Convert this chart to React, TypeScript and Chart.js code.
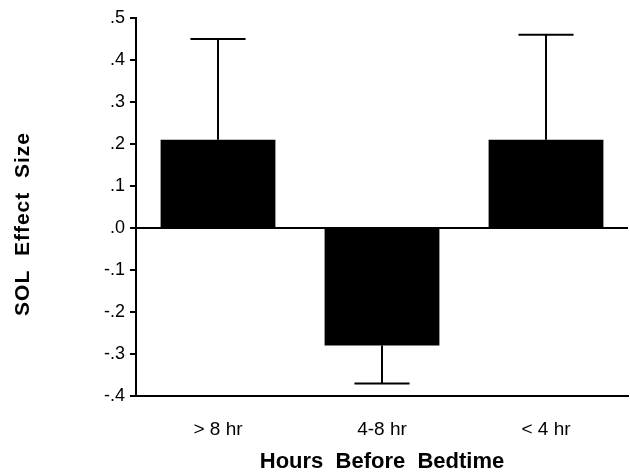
import React, { useEffect, useRef } from "react";
import { Chart, registerables } from "chart.js";

Chart.register(...registerables);

const categories = ["> 8 hr", "4-8 hr", "< 4 hr"];
const effectSizes = [0.21, -0.28, 0.21];
const errorEnds = [0.45, -0.37, 0.46];
const yTickValues = [0.5, 0.4, 0.3, 0.2, 0.1, 0.0, -0.1, -0.2, -0.3, -0.4];
const yTitle = "SOL  Effect  Size";
const xTitle = "Hours  Before  Bedtime";

const FONT = "Liberation Sans, Arial, Helvetica, sans-serif";

const fmt = (v: number) => {
  const r = Math.round(v * 10) / 10;
  return r.toFixed(1).replace("0.", ".");
};

const errorBarPlugin = {
  id: "errorBars",
  afterDatasetsDraw(chart: any) {
    const { ctx, scales } = chart;
    const meta = chart.getDatasetMeta(0);
    ctx.save();
    ctx.strokeStyle = "#000";
    ctx.lineWidth = 2;
    meta.data.forEach((bar: any, i: number) => {
      const x = bar.x;
      const y0 = scales.y.getPixelForValue(effectSizes[i]);
      const y1 = scales.y.getPixelForValue(errorEnds[i]);
      const capHalf = bar.width * 0.24;
      ctx.beginPath();
      ctx.moveTo(x, y0);
      ctx.lineTo(x, y1);
      ctx.moveTo(x - capHalf, y1);
      ctx.lineTo(x + capHalf, y1);
      ctx.stroke();
    });
    ctx.restore();
  },
};

const yTitlePlugin = {
  id: "yTitleOffset",
  afterDraw(chart: any) {
    const { ctx, chartArea } = chart;
    ctx.save();
    ctx.fillStyle = "#000";
    ctx.font = `bold 21px ${FONT}`;
    try {
      (ctx as any).letterSpacing = "1px";
    } catch (e) {}
    ctx.textAlign = "center";
    ctx.textBaseline = "middle";
    ctx.translate(23, (chartArea.top + chartArea.bottom) / 2 + 17);
    ctx.rotate(-Math.PI / 2);
    ctx.fillText(yTitle, 0, 0);
    ctx.restore();
  },
};

export default function App() {
  const ref = useRef<HTMLCanvasElement>(null);
  useEffect(() => {
    if (!ref.current) return;
    const chart = new Chart(ref.current, {
      type: "bar",
      data: {
        labels: categories,
        datasets: [
          {
            data: effectSizes,
            backgroundColor: "#000",
            borderWidth: 0,
            barPercentage: 0.7,
            categoryPercentage: 1,
          },
        ],
      },
      options: {
        animation: false,
        responsive: true,
        maintainAspectRatio: false,
        layout: { padding: { top: 18, right: 2, left: 0, bottom: 0 } },
        plugins: { legend: { display: false }, tooltip: { enabled: false } },
        scales: {
          x: {
            offset: true,
            grid: { display: false, drawTicks: false },
            border: { display: true, color: "#000", width: 2 },
            ticks: {
              color: "#000",
              padding: 22,
              font: { family: FONT, size: 19 },
            },
            title: {
              display: true,
              text: xTitle,
              color: "#000",
              padding: { top: 0, bottom: 0 },
              font: { family: FONT, size: 22, weight: "bold", lineHeight: 1 },
            },
            afterFit: (s: any) => {
              s.height = 77;
            },
          },
          y: {
            min: -0.4,
            max: 0.5,
            afterBuildTicks: (s: any) => {
              s.ticks = yTickValues.map((v) => ({ value: v }));
            },
            grid: {
              drawOnChartArea: true,
              color: (c: any) => (c.tick && Math.abs(c.tick.value) < 1e-9 ? "#000" : "rgba(0,0,0,0)"),
              lineWidth: 2,
              tickColor: "#000",
              tickLength: 6,
              tickWidth: 2,
            },
            border: { display: true, color: "#000", width: 2 },
            ticks: {
              color: "#000",
              padding: 5,
              callback: (v: any) => fmt(Number(v)),
              font: { family: FONT, size: 18 },
            },
            title: { display: false },
            afterFit: (s: any) => {
              s.width = 136;
            },
          },
        },
      },
      plugins: [errorBarPlugin, yTitlePlugin],
    });
    return () => chart.destroy();
  }, []);
  return (
    <div style={{ position: "fixed", left: 0, top: 0, width: 630, height: 473, background: "#fff" }}>
      <canvas ref={ref} />
    </div>
  );
}
